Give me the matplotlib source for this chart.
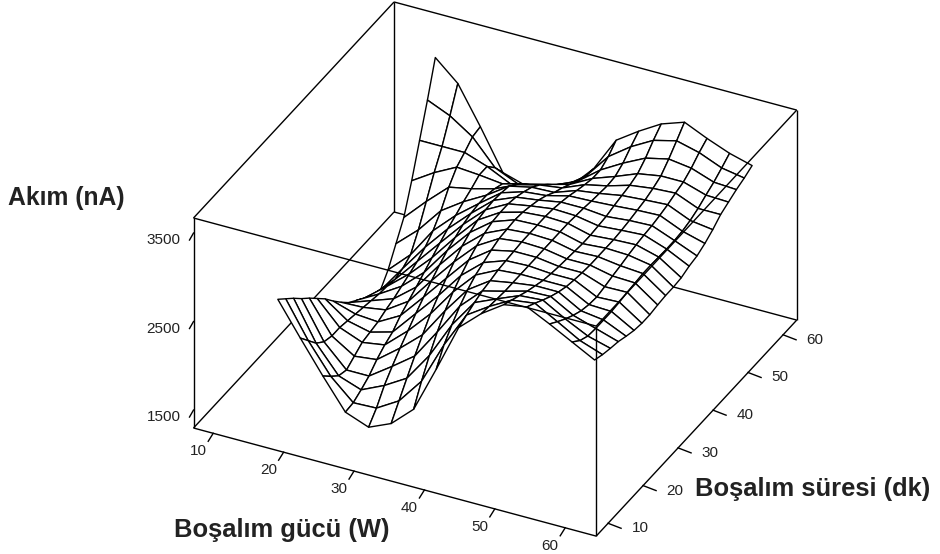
"""Wireframe surface of discharge current vs. discharge power and time."""

import numpy as np
import matplotlib
matplotlib.use('Agg')
import matplotlib.pyplot as plt
from matplotlib.collections import PolyCollection

plt.rcParams['font.family'] = ['Liberation Sans', 'DejaVu Sans']

# Grid of the surface
power = [15.0, 18.2, 21.4, 24.6, 27.9, 31.1, 34.3, 37.5, 40.7, 43.9, 47.1, 50.4, 53.6, 56.8, 60.0]
duration = [15.0, 17.25, 19.5, 21.75, 24.0, 26.25, 28.5, 30.75, 33.0, 35.25, 37.5,
            39.75, 42.0, 44.25, 46.5, 48.75, 51.0, 53.25, 55.5, 57.75, 60.0]

# Current (nA), one row per power value, one column per duration value
current = [
    [2560, 2470, 2380, 2280, 2190, 2090, 1990, 1870, 1760, 1660, 1590, 1520, 1460, 1410, 1550, 1750, 1950, 2270, 2630, 2990, 3375],
    [2190, 2065, 1940, 1860, 1830, 1830, 1810, 1790, 1770, 1750, 1730, 1720, 1700, 1730, 1790, 1975, 2200, 2430, 2630, 2880, 3150],
    [1830, 1730, 1640, 1610, 1670, 1730, 1750, 1770, 1810, 1840, 1885, 1930, 1975, 2040, 2130, 2260, 2430, 2560, 2630, 2710, 2730],
    [1490, 1500, 1550, 1610, 1700, 1770, 1820, 1910, 1975, 2040, 2110, 2180, 2250, 2315, 2370, 2430, 2480, 2540, 2540, 2430, 2280],
    [1390, 1510, 1670, 1790, 1900, 2000, 2100, 2190, 2280, 2360, 2430, 2480, 2530, 2560, 2575, 2575, 2550, 2510, 2415, 2315, 2200],
    [1500, 1660, 1820, 1975, 2120, 2260, 2370, 2470, 2560, 2640, 2700, 2745, 2765, 2775, 2765, 2745, 2665, 2575, 2470, 2370, 2260],
    [1730, 1950, 2145, 2315, 2460, 2575, 2665, 2745, 2810, 2855, 2890, 2900, 2900, 2880, 2845, 2800, 2730, 2640, 2540, 2430, 2340],
    [2250, 2430, 2560, 2675, 2765, 2835, 2880, 2925, 2960, 2970, 2980, 2970, 2945, 2915, 2870, 2810, 2765, 2710, 2650, 2610, 2600],
    [2790, 2835, 2880, 2915, 2935, 2960, 2970, 2980, 2990, 2990, 2990, 2990, 2980, 2960, 2935, 2900, 2870, 2845, 2845, 2900, 2990],
    [3015, 3000, 2990, 2980, 2980, 2980, 2980, 2980, 2980, 2980, 2980, 2980, 2970, 2960, 2945, 2935, 2925, 2935, 2990, 3080, 3160],
    [3185, 3140, 3095, 3050, 3015, 2980, 2960, 2945, 2935, 2925, 2915, 2915, 2925, 2935, 2960, 2980, 3000, 3035, 3115, 3220, 3310],
    [3230, 3175, 3115, 3060, 3015, 2980, 2960, 2945, 2935, 2935, 2935, 2935, 2945, 2960, 2980, 3000, 3035, 3080, 3175, 3285, 3400],
    [3105, 3035, 2970, 2915, 2870, 2845, 2835, 2855, 2880, 2900, 2925, 2945, 2960, 2970, 2990, 3015, 3050, 3080, 3140, 3220, 3285],
    [2970, 2890, 2845, 2835, 2835, 2835, 2845, 2860, 2870, 2880, 2880, 2875, 2870, 2870, 2880, 2905, 2945, 3000, 3050, 3115, 3185],
    [2835, 2800, 2775, 2755, 2720, 2690, 2675, 2675, 2690, 2700, 2700, 2710, 2745, 2765, 2810, 2870, 2945, 2990, 3035, 3070, 3115],
]

power_ticks = [10, 20, 30, 40, 50, 60]
duration_ticks = [10, 20, 30, 40, 50, 60]
current_ticks = [1500, 2500, 3500]

# Box limits
X0, X1 = 7.2, 64.4
Y0, Y1 = 6.6, 63.9
Z0, Z1 = 1297, 3670

LW = 1.0


def project(x, y, z):
    """Orthographic projection of data coordinates to figure pixels."""
    x, y, z = np.asarray(x, float), np.asarray(y, float), np.asarray(z, float)
    px = 193.5 + (x - X0) * 7.04 + (y - Y0) * 3.5
    py = 428 + (x - X0) * 1.89 - (y - Y0) * 3.77 - (z - Z0) * 0.0885
    return px, py


def edge(ax, a, b, zorder):
    px, py = project(*zip(a, b))
    ax.plot(px, py, color='black', lw=LW, zorder=zorder, solid_capstyle='butt')


fig = plt.figure(figsize=(9.4, 5.54), dpi=100)
ax = fig.add_axes([0, 0, 1, 1])
ax.set_xlim(0, 940)
ax.set_ylim(554, 0)
ax.axis('off')

# Box edges behind the surface
for a, b in [((X0, Y0, Z0), (X0, Y1, Z0)), ((X0, Y1, Z0), (X1, Y1, Z0)),
             ((X0, Y1, Z0), (X0, Y1, Z1)), ((X0, Y0, Z1), (X0, Y1, Z1)),
             ((X0, Y1, Z1), (X1, Y1, Z1)), ((X1, Y1, Z0), (X1, Y1, Z1)),
             ((X0, Y0, Z0), (X0, Y0, Z1)), ((X0, Y0, Z0), (X1, Y0, Z0)),
             ((X1, Y0, Z0), (X1, Y1, Z0))]:
    edge(ax, a, b, 1)

# Surface, back to front
P, D = np.meshgrid(power, duration, indexing='ij')
sx, sy = project(P, D, np.array(current))
quads = []
for i in range(len(power) - 1):
    for j in range(len(duration) - 2, -1, -1):
        quads.append([(sx[i, j], sy[i, j]), (sx[i + 1, j], sy[i + 1, j]),
                      (sx[i + 1, j + 1], sy[i + 1, j + 1]), (sx[i, j + 1], sy[i, j + 1])])
ax.add_collection(PolyCollection(quads, facecolors='white', edgecolors='black',
                                 linewidths=LW, zorder=2))

# Box edges in front of the surface
for a, b in [((X0, Y0, Z1), (X1, Y0, Z1)), ((X1, Y0, Z1), (X1, Y1, Z1)),
             ((X1, Y0, Z0), (X1, Y0, Z1))]:
    edge(ax, a, b, 3)

# Ticks and their labels
for t in power_ticks:
    px, py = project(t, Y0, Z0)
    ax.plot([px, px - 5], [py, py + 8], color='black', lw=LW)
    ax.text(px - 15, py + 18, str(t), fontsize=11, ha='center', va='center', color='#222222')
for t in duration_ticks:
    px, py = project(X1, t, Z0)
    ax.plot([px, px + 13], [py, py + 5], color='black', lw=LW)
    ax.text(px + 32, py + 5, str(t), fontsize=11, ha='center', va='center', color='#222222')
for t in current_ticks:
    px, py = project(X0, Y0, t)
    ax.plot([px, px - 4], [py, py + 7], color='black', lw=LW)
    ax.text(px - 30, py + 7, str(t), fontsize=11, ha='center', va='center', color='#222222')

# Axis titles
ax.text(8, 198, 'Akım (nA)', fontsize=17.8, fontweight='bold', ha='left', va='center', color='#222222')
ax.text(174, 530, 'Boşalım gücü (W)', fontsize=18.4, fontweight='bold', ha='left', va='center', color='#222222')
ax.text(695, 489, 'Boşalım süresi (dk)', fontsize=18.4, fontweight='bold', ha='left', va='center', color='#222222')

plt.savefig('out.png', dpi=100)
